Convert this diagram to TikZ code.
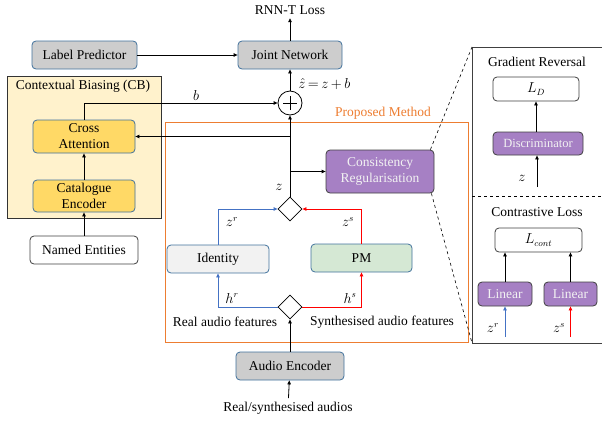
\documentclass[tikz,border=0pt]{standalone}
\usepackage{fontspec}
\setmainfont{Liberation Serif}
\usetikzlibrary{arrows.meta,shapes.geometric}
\definecolor{boxline}{RGB}{65,113,156}
\definecolor{grayfill}{RGB}{205,205,205}
\definecolor{cbfill}{RGB}{255,242,204}
\definecolor{gold}{RGB}{255,217,102}
\definecolor{purp}{RGB}{166,128,196}
\definecolor{pmgreen}{RGB}{213,232,212}
\definecolor{idgray}{RGB}{242,242,242}
\definecolor{orng}{RGB}{237,125,49}
\definecolor{zblue}{RGB}{68,114,196}
\definecolor{zred}{RGB}{255,0,0}
\begin{document}
\begin{tikzpicture}[x=1pt,y=-1pt,
    font=\fontsize{13.5}{16}\selectfont,
    >={Triangle[length=4pt,width=3.5pt]},
    line width=0.8pt,
    box/.style={draw=boxline,rounded corners=4pt,align=center,inner sep=0pt},
    greybox/.style={box,fill=grayfill,minimum height=28pt},
    goldbox/.style={box,fill=gold,minimum width=102pt},
    plainbox/.style={draw=black!75,rounded corners=4pt,fill=white,align=center,inner sep=0pt},
    purpbox/.style={draw=black!75,rounded corners=4pt,fill=purp,text=white!95!black,align=center,inner sep=0pt},
    junction/.style={diamond,draw,aspect=1,minimum width=24pt,minimum height=24pt,inner sep=0pt,fill=white}]
\useasboundingbox (0,0) rectangle (602,423);

\draw[draw=black!80,fill=cbfill] (7,76) rectangle (161,218);
\node at (83,86) {Contextual Biasing (CB)};
\draw[orng] (165,122) rectangle (468,342);
\node[text=orng] at (383,113) {Proposed Method};
\draw[black!75] (603,47) -- (472,47) -- (472,343) -- (603,343);
\draw[dashed,line width=0.6pt] (472,196) -- (603,196);
\coordinate (pnw) at (472,47);
\coordinate (psw) at (472,343);

\node (loss) at (290,10) {RNN-T Loss};
\node[greybox,minimum width=105pt] (lp) at (84.5,55) {Label Predictor};
\node[greybox,minimum width=104pt] (jn) at (290,55) {Joint Network};
\node[circle,draw,minimum size=24pt,inner sep=0pt,fill=white] (plus) at (290,103) {};
\draw ([xshift=-7pt]plus.center) -- ([xshift=7pt]plus.center)
      ([yshift=-7pt]plus.center) -- ([yshift=7pt]plus.center);
\node[anchor=west,inner sep=0pt] (zhat) at (298,84.5) {$\hat{z}\,{=}\,z\,{+}\,b$};

\node[goldbox,minimum height=33pt] (ca) at (84,136.5) {Cross\\Attention};
\node[goldbox,minimum height=32pt] (ce) at (84,196) {Catalogue\\Encoder};
\node[plainbox,minimum width=108pt,minimum height=28pt] (ne) at (84,250) {Named Entities};

\node[purpbox,minimum width=108pt,minimum height=43pt] (cr) at (380,171.5) {Consistency\\Regularisation};
\node[junction] (d1) at (290,209) {};
\node[box,fill=idgray,minimum width=102pt,minimum height=28pt] (id) at (218,259) {Identity};
\node[box,fill=pmgreen,minimum width=101pt,minimum height=28pt] (pm) at (361.5,258) {PM};
\node[junction] (d2) at (290,307) {};
\node[greybox,minimum width=108pt] (ae) at (290,366) {Audio Encoder};
\node (audios) at (288,408) {Real/synthesised audios};

\node at (279,187) {$z$};
\node at (232,222) {$z^r$};
\node at (348,222) {$z^s$};
\node at (232,298) {$h^r$};
\node at (350,298) {$h^s$};
\node at (225,322) {Real audio features};
\node at (382,322) {Synthesised audio features};
\node at (196,95) {$b$};

\draw[->] (jn) -- (loss);
\draw[->] (lp) -- (jn);
\draw[->] (plus) -- (jn);
\draw[->] (ca.north) |- (plus.west);
\draw[->] (ce) -- (ca);
\draw[->] (ne) -- (ce);
\draw[->] (d1) -- (plus);
\draw[->] (d1.north |- ca.east) -- (ca.east);
\draw[->] (d1.north |- cr.west) -- (cr.west);
\draw[zblue,->] (id.north) |- (d1.west);
\draw[zred,->] (pm.north) |- (d1.east);
\draw[zblue,->] (d2.west) -| (id.south);
\draw[zred,->] (d2.east) -| (pm.south);
\draw[->] (ae) -- (d2);
\draw[->] (audios) -- (ae);
\draw[dashed,line width=0.6pt] ([xshift=-4pt]cr.north east) -- (pnw);
\draw[dashed,line width=0.6pt] ([xshift=-3pt]cr.south east) -- (psw);

\node (grt) at (537,62) {Gradient Reversal};
\node[plainbox,minimum width=86pt,minimum height=24pt] (ld) at (536,89) {$L_D$};
\node[purpbox,minimum width=90pt,minimum height=23pt,font=\fontsize{12.5}{14}\selectfont] (disc) at (538,143.5) {Discriminator};
\node (zd) at (522,178) {$z$};
\coordinate (zin) at (537,187);
\draw[->] (disc.north -| ld.south) -- (ld.south);
\draw[->] (zin) -- (zin |- disc.south);

\node (clt) at (537,212) {Contrastive Loss};
\node[plainbox,minimum width=87pt,minimum height=24pt] (lc) at (538.5,240) {$L_{cont}$};
\node[purpbox,minimum width=54pt,minimum height=24pt] (lin1) at (505,294) {Linear};
\node[purpbox,minimum width=53pt,minimum height=24pt] (lin2) at (570.5,294) {Linear};
\node at (493,328) {$z^r$};
\node at (559,328) {$z^s$};
\coordinate (zr) at (505,337);
\coordinate (zs) at (570.5,337);
\draw[->] (lin1) -- (lin1 |- lc.south);
\draw[->] (lin2) -- (lin2 |- lc.south);
\draw[zblue,->] (zr) -- (lin1);
\draw[zred,->] (zs) -- (lin2);
\end{tikzpicture}
\end{document}
